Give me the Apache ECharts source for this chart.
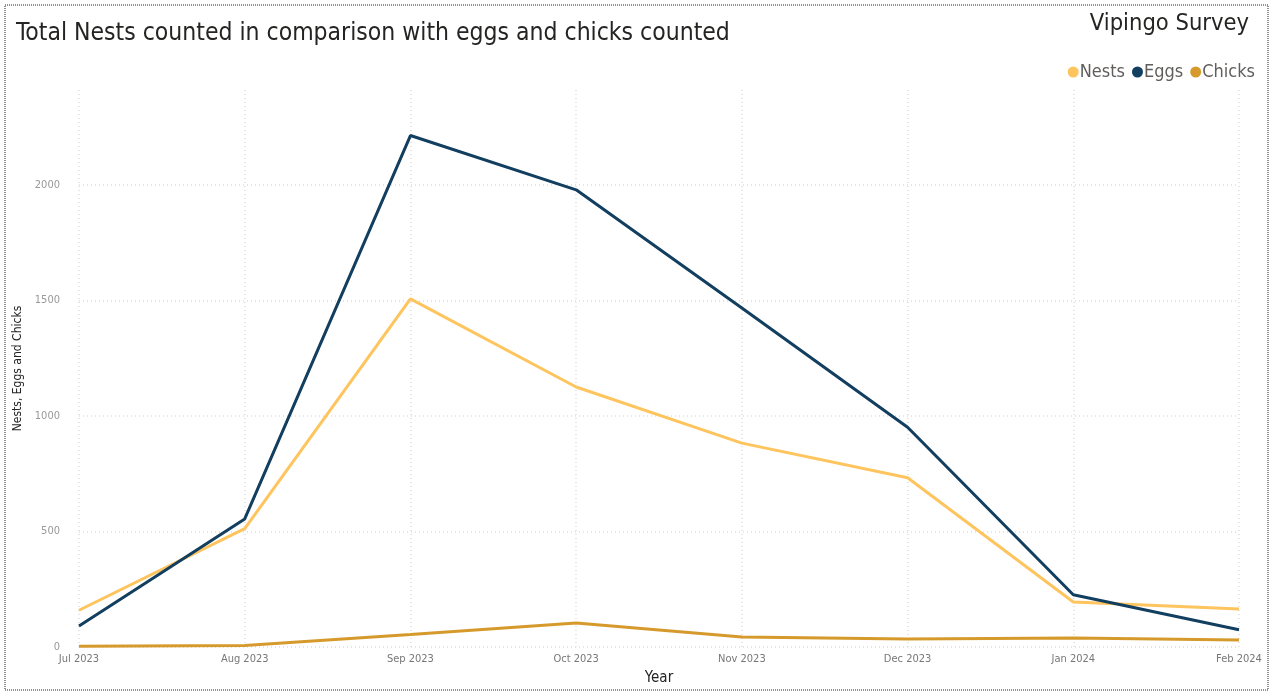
<!DOCTYPE html>
<html><head><meta charset="utf-8">
<script src="https://cdn.jsdelivr.net/npm/echarts@6/dist/echarts.min.js"></script>
<style>html,body{margin:0;padding:0;background:#fff}#c{width:1275px;height:693px}</style>
</head><body><div id="c"></div>
<script>
const categories = ['Jul 2023','Aug 2023','Sep 2023','Oct 2023','Nov 2023','Dec 2023','Jan 2024','Feb 2024'];
const nests = [159, 512, 1506, 1125, 882, 732, 195, 164];
const eggs = [91, 554, 2213, 1978, 1467, 951, 226, 75];
const chicks = [3, 6, 54, 104, 43, 35, 39, 30];
const yTicks = [0, 500, 1000, 1500, 2000];

const font = "'DejaVu Sans Condensed','Liberation Sans Narrow',sans-serif";
const chart = echarts.init(document.getElementById('c'));
chart.setOption({
  animation: false,
  textStyle: {fontFamily: "'Segoe UI','Open Sans',sans-serif"},
  title: [
    {text: 'Total Nests counted in comparison with eggs and chicks counted', left: 11, top: 16,
     textStyle: {fontFamily: font, fontSize: 24.5, fontWeight: 'normal', color: '#252423'}},
    {text: 'Vipingo Survey', right: 21, top: 7,
     textStyle: {fontFamily: font, fontSize: 23.5, fontWeight: 'normal', color: '#252423'}}
  ],
  legend: {
    right: 15, top: 58, icon: 'circle', itemWidth: 11, itemHeight: 11, itemGap: 7,
    textStyle: {fontFamily: font, fontSize: 18, color: '#605E5C', padding: [0,0,0,-4]},
    data: ['Nests','Eggs','Chicks']
  },
  graphic: [{type: 'rect', shape: {x: 5, y: 5, width: 1263, height: 685},
    style: {fill: 'none', stroke: '#222', lineWidth: 1, lineDash: [1, 1]}, silent: true}],
  grid: {left: 79, right: 36, top: 90, bottom: 46},
  xAxis: {
    type: 'category', data: categories, boundaryGap: false,
    name: 'Year', nameLocation: 'middle', nameGap: 24,
    nameTextStyle: {fontFamily: font, fontSize: 15, color: '#252423'},
    axisLine: {show: false}, axisTick: {show: false},
    axisLabel: {color: '#777', fontSize: 11, margin: 7, fontFamily: font},
    splitLine: {show: true, lineStyle: {color: '#ddd', type: [1, 3], width: 1.5}}
  },
  yAxis: {
    type: 'value', min: 0, max: 2410, interval: 500,
    name: 'Nests, Eggs and Chicks', nameLocation: 'middle', nameGap: 50,
    nameTextStyle: {fontFamily: font, fontSize: 12, color: '#252423'},
    axisLine: {show: false}, axisTick: {show: false},
    axisLabel: {color: '#999', fontSize: 11, margin: 19, showMaxLabel: false, fontFamily: font,
      formatter: v => String(v)},
    splitLine: {show: false}
  },
  series: [
    {name: 'grid', type: 'line', data: [], z: 1, silent: true,
     markLine: {silent: true, z: 1, symbol: 'none', label: {show: false}, animation: false,
       emphasis: {disabled: true},
       lineStyle: {color: '#ddd', type: [1, 3], width: 1.5},
       data: yTicks.map(v => ({yAxis: v}))}},
    {name: 'Nests', type: 'line', z: 3, data: nests, symbol: 'none', lineStyle: {width: 3, color: '#FEC45E'}, itemStyle: {color: '#FEC45E'}},
    {name: 'Eggs', type: 'line', z: 3, data: eggs, symbol: 'none', lineStyle: {width: 3, color: '#123E60'}, itemStyle: {color: '#123E60'}},
    {name: 'Chicks', type: 'line', z: 3, data: chicks, symbol: 'none', lineStyle: {width: 3, color: '#D69A2C'}, itemStyle: {color: '#D69A2C'}}
  ]
});
</script></body></html>
